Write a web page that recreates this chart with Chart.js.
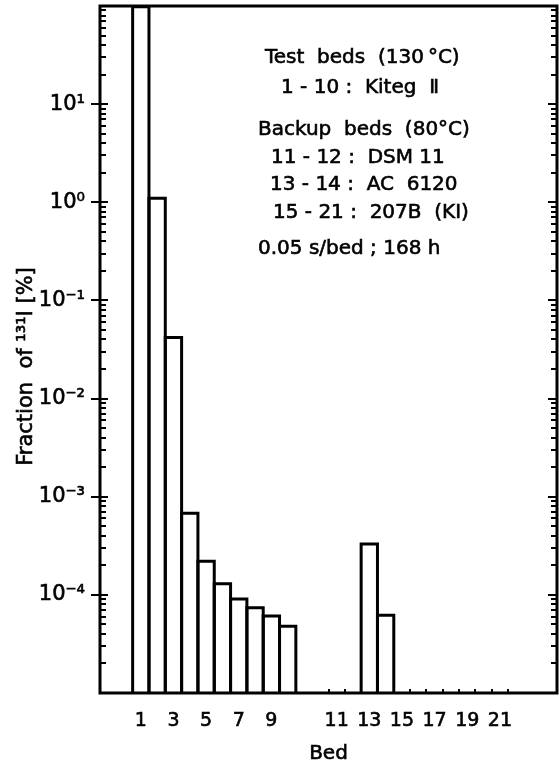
<!DOCTYPE html>
<html>
<head>
<meta charset="utf-8">
<script src="https://cdn.jsdelivr.net/npm/chart.js@4.4.0/dist/chart.umd.min.js"></script>
<style>
  html, body { margin: 0; padding: 0; background: #fff; }
  #bedChart { display: block; }
</style>
</head>
<body>
<canvas id="bedChart" width="559" height="767"></canvas>
<script>
// 131I retained per bed, in % of total
const testBeds = ["1", "2", "3", "4", "5", "6", "7", "8", "9", "10"];
const testFraction = [98.5, 1.1, 0.042, 6.8e-4, 2.2e-4, 1.3e-4, 9.1e-5, 7.4e-5, 6.1e-5, 4.8e-5];
const backupBeds = ["11", "12", "13", "14", "15", "16", "17", "18", "19", "20", "21"];
const backupFraction = [null, null, 3.3e-4, 6.2e-5, null, null, null, null, null, null, null];
const decadeExponents = [1, 0, -1, -2, -3, -4];
const noteLines = [
  "Test  beds  (130\u2009°C)",
  "1 - 10 :  Kiteg  Ⅱ",
  "Backup  beds  (80°C)",
  "11 - 12 :  DSM 11",
  "13 - 14 :  AC  6120",
  "15 - 21 :  207B  (KI)",
  "0.05 s/bed ; 168 h",
];

// empty slots before, between and after the two groups of beds
const slots = ["", ""].concat(testBeds, ["", ""], backupBeds, ["", "", ""]);
const slotValues = [null, null].concat(testFraction, [null, null], backupFraction, [null, null, null]);

const FONT = "'DejaVu Sans', sans-serif";
Chart.defaults.font.family = FONT;
Chart.defaults.color = "#000";

const sup = { "-": "⁻", "0": "⁰", "1": "¹", "2": "²", "3": "³", "4": "⁴", "5": "⁵" };
function powerLabel(e) {
  return "10" + String(e).split("").map((ch) => sup[ch]).join("");
}

function heavyText(ctx, text, x, y) {
  ctx.fillText(text, x, y);
  ctx.strokeText(text, x, y);
}

const noteX = [265, 281, 258, 271, 270, 273, 258];
const noteY = [58, 88, 130, 158, 185, 213, 249];

const axisDecor = {
  id: "axisDecor",
  afterDraw(chart) {
    const { ctx, chartArea: a, scales } = chart;
    const x = scales.x;
    const y = scales.y;
    ctx.save();
    ctx.strokeStyle = "#000";
    ctx.fillStyle = "#000";

    // bar outlines, neighbours share one edge
    ctx.lineWidth = 3;
    chart.getDatasetMeta(0).data.forEach((bar, i) => {
      if (slotValues[i] == null) return;
      const half = bar.width / 2;
      const top = Math.max(bar.y, a.top);
      ctx.beginPath();
      ctx.moveTo(bar.x - half, bar.base);
      ctx.lineTo(bar.x - half, top);
      ctx.lineTo(bar.x + half, top);
      ctx.lineTo(bar.x + half, bar.base);
      ctx.stroke();
    });

    // log ticks on the left and right axes
    ctx.lineWidth = 2;
    for (let e = -5; e <= 1; e++) {
      for (let k = 1; k <= 9; k++) {
        const v = k * Math.pow(10, e);
        if (v <= y.min || v >= y.max) continue;
        const py = Math.round(y.getPixelForValue(v));
        const major = k === 1;
        ctx.beginPath();
        ctx.moveTo(a.left - (major ? 9 : 0), py);
        ctx.lineTo(a.left + (major ? 8 : 6), py);
        ctx.moveTo(a.right - (major ? 9 : 6), py);
        ctx.lineTo(a.right, py);
        ctx.stroke();
      }
    }

    // small marks on the bed axis at the bar edges
    for (let i = 1; i < slots.length; i++) {
      if (slots[i - 1] === "" && slots[i] === "") continue;
      const px = Math.round((x.getPixelForValue(i - 1) + x.getPixelForValue(i)) / 2);
      ctx.beginPath();
      ctx.moveTo(px, a.bottom);
      ctx.lineTo(px, a.bottom - 4);
      ctx.stroke();
    }

    // frame
    ctx.lineWidth = 3;
    ctx.strokeRect(a.left, a.top, a.right - a.left, a.bottom - a.top);

    ctx.lineWidth = 0.6;

    // y axis title
    ctx.save();
    ctx.translate(32, (a.top + a.bottom) / 2 + 17);
    ctx.rotate(-Math.PI / 2);
    ctx.font = "21px " + FONT;
    ctx.textAlign = "center";
    ctx.textBaseline = "alphabetic";
    heavyText(ctx, "Fraction  of ¹³¹I [%]", 0, 0);
    ctx.restore();

    // x axis title
    ctx.font = "20px " + FONT;
    ctx.textAlign = "center";
    ctx.textBaseline = "middle";
    heavyText(ctx, "Bed", (a.left + a.right) / 2, 754);

    // notes
    ctx.textAlign = "left";
    noteLines.forEach((line, i) => heavyText(ctx, line, noteX[i], noteY[i]));
    ctx.restore();
  },
};

new Chart(document.getElementById("bedChart"), {
  type: "bar",
  data: {
    labels: slots,
    datasets: [
      {
        data: slotValues,
        backgroundColor: "transparent",
        borderWidth: 0,
        inflateAmount: 0,
        barPercentage: 1,
        categoryPercentage: 1,
      },
    ],
  },
  options: {
    responsive: false,
    animation: false,
    layout: { padding: { top: 6, right: 2, left: 0, bottom: 0 } },
    plugins: { legend: { display: false }, tooltip: { enabled: false } },
    scales: {
      x: {
        grid: { display: false, drawTicks: false },
        border: { display: false },
        ticks: {
          autoSkip: false,
          maxRotation: 0,
          padding: 17,
          font: { size: 19 },
          textStrokeColor: "#000",
          textStrokeWidth: 0.6,
          callback: (v, i) => {
            const l = slots[i];
            return l !== "" && Number(l) % 2 === 1 ? l : "";
          },
        },
        afterFit: (s) => {
          s.height = 74;
          s.paddingLeft = 0;
          s.paddingRight = 0;
        },
      },
      y: {
        type: "logarithmic",
        min: 1e-5,
        max: 1e2,
        grid: { display: false, drawTicks: false },
        border: { display: false },
        ticks: {
          autoSkip: false,
          padding: 15,
          font: { size: 21 },
          textStrokeColor: "#000",
          textStrokeWidth: 0.6,
          callback: (v) => {
            const e = Math.round(Math.log10(v));
            if (Math.abs(Math.log10(v) - e) > 1e-6) return "";
            return decadeExponents.includes(e) ? powerLabel(e) : "";
          },
        },
        afterFit: (s) => {
          s.width = 100;
          s.paddingTop = 0;
          s.paddingBottom = 0;
        },
      },
    },
  },
  plugins: [axisDecor],
});
</script>
</body>
</html>
